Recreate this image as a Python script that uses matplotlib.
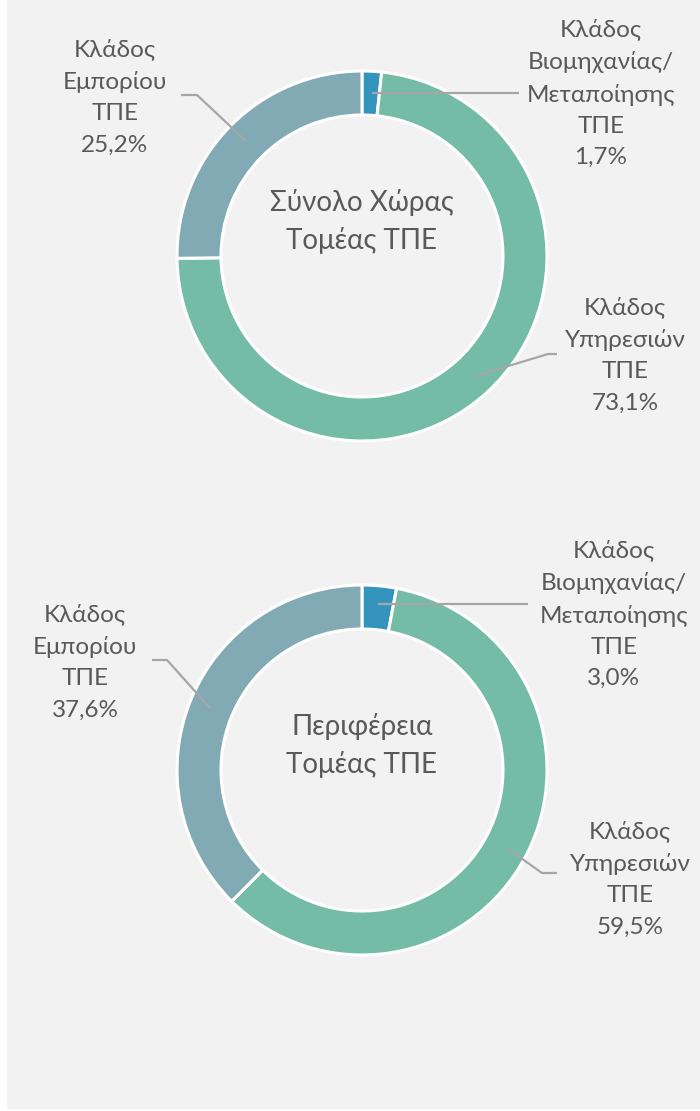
import matplotlib
matplotlib.use("Agg")
import matplotlib.pyplot as plt
from matplotlib.patches import Rectangle

plt.rcParams['font.family'] = ['Lato', 'Open Sans', 'DejaVu Sans']

# ---- data ----
categories = ["Κλάδος\nΒιομηχανίας/\nΜεταποίησης\nΤΠΕ",
              "Κλάδος\nΥπηρεσιών\nΤΠΕ",
              "Κλάδος\nΕμπορίου\nΤΠΕ"]
values_country = [1.7, 73.1, 25.2]
values_region = [3.0, 59.5, 37.6]
titles = ["Σύνολο Χώρας\nΤομέας ΤΠΕ", "Περιφέρεια\nΤομέας ΤΠΕ"]
colors = ["#3594bd", "#74bca6", "#82aab4"]

W, H = 700, 1111
TEXT = "#595959"
LEAD = "#a6a6a6"

fig = plt.figure(figsize=(W / 100, H / 100), dpi=100, facecolor="white")
ax = fig.add_axes([0, 0, 1, 1])
ax.set_xlim(0, W)
ax.set_ylim(0, H)
ax.axis("off")


def Y(y):
    return H - y


ax.add_patch(Rectangle((7, Y(1109)), W - 7, 1109, facecolor="#f2f2f2",
                       edgecolor="none", zorder=0))

R = 185
thick = 44

layouts = [
    dict(center=(362, 256), title_y=222,
         label_pos=[(601, 93), (625, 355), (115, 97)],
         leaders=[[(372, 93), (519, 93)],
                  [(472, 377), (548, 354), (557, 354)],
                  [(181, 95), (197, 95), (246, 141)]]),
    dict(center=(362, 770), title_y=745,
         label_pos=[(614, 614), (630, 879), (85, 662)],
         leaders=[[(378, 604), (528, 604)],
                  [(507, 848), (542, 873), (557, 873)],
                  [(152, 660), (167, 660), (210, 708)]]),
]

for vals, title, lay in zip([values_country, values_region], titles, layouts):
    cx, cy = lay["center"]
    ax.pie(vals, colors=colors, startangle=90, counterclock=False,
           center=(cx, Y(cy)), radius=R, frame=True,
           wedgeprops=dict(width=thick, edgecolor="white", linewidth=2.2))
    ax.text(cx, Y(lay["title_y"]), title, ha="center", va="center",
            fontsize=20, color=TEXT, linespacing=1.5)
    for cat, v, (lx, ly), pts in zip(categories, vals, lay["label_pos"], lay["leaders"]):
        label = cat + "\n" + f"{v:.1f}%".replace(".", ",")
        ax.text(lx, Y(ly), label, ha="center", va="center", fontsize=17.5,
                color=TEXT, linespacing=1.6)
        xs = [p[0] for p in pts]
        ys = [Y(p[1]) for p in pts]
        ax.plot(xs, ys, color=LEAD, lw=1.6, solid_capstyle="butt", zorder=5)

ax.set_xlim(0, W)
ax.set_ylim(0, H)
ax.set_aspect("auto")
ax.axis("off")

fig.savefig("out.png", dpi=100, facecolor="white")
